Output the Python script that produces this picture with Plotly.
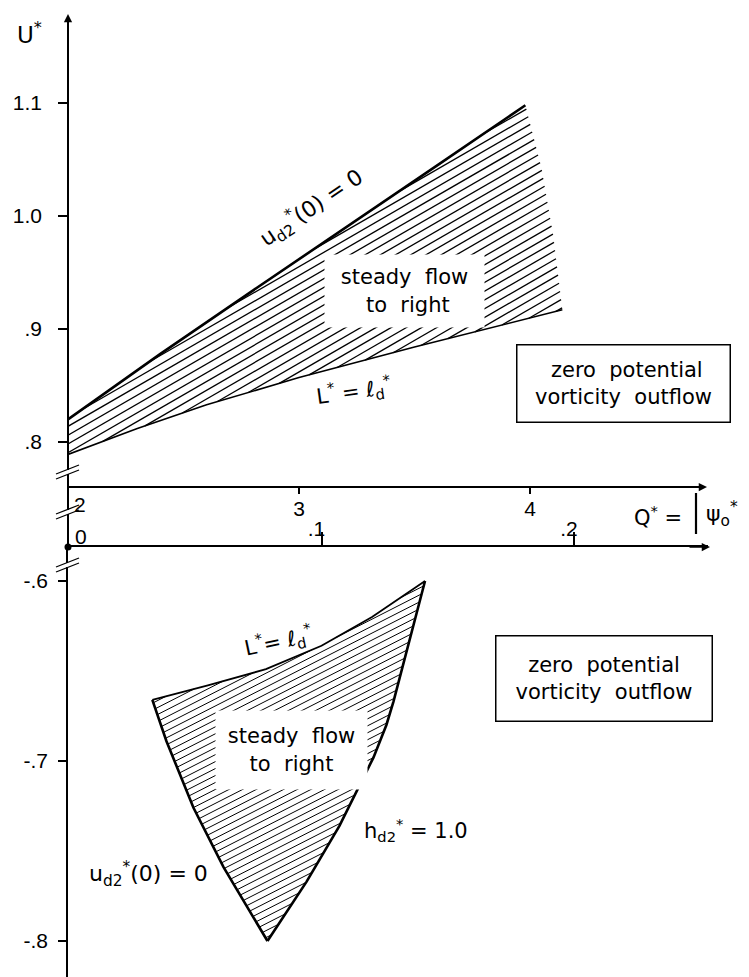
import math
import plotly.graph_objects as go

# ---------------- data ----------------
# upper panel, abscissa Q*
top_upper_Q = [2.0, 2.4, 2.8, 3.25, 3.6, 3.98]
top_upper_U = [0.820, 0.878, 0.934, 0.996, 1.045, 1.098]
top_right_Q = [3.98, 4.05, 4.10, 4.14]
top_right_U = [1.098, 1.042, 0.983, 0.917]
top_lower_Q = [2.0, 2.3, 2.6, 3.0, 3.5, 4.14]
top_lower_U = [0.789, 0.812, 0.833, 0.857, 0.884, 0.917]

# lower panel, abscissa |psi0*|
bot_upper_psi = [0.033, 0.055, 0.078, 0.100, 0.120, 0.141]
bot_upper_U = [-0.666, -0.658, -0.649, -0.636, -0.620, -0.600]
bot_right_psi = [0.141, 0.1337, 0.1285, 0.1257, 0.1206, 0.1071, 0.0941, 0.0786]
bot_right_U = [-0.600, -0.639, -0.667, -0.680, -0.698, -0.736, -0.767, -0.800]
bot_left_psi = [0.0786, 0.0612, 0.0493, 0.0386, 0.033]
bot_left_U = [-0.800, -0.759, -0.726, -0.689, -0.666]

top_ytick_vals = [0.8, 0.9, 1.0, 1.1]
top_ytick_text = [".8", ".9", "1.0", "1.1"]
top_xtick_vals = [3, 4]
top_xtick_text = ["3", "4"]
bot_xtick_vals = [0.1, 0.2]
bot_xtick_text = [".1", ".2"]
bot_ytick_vals = [-0.6, -0.7, -0.8]
bot_ytick_text = ["-.6", "-.7", "-.8"]

# ---------------- layout geometry (pixels) ----------------
W, H = 749, 977
AX_X = 60            # vertical axis
Q_AX_Y = 479         # Q* axis
P_AX_Y = 539         # psi axis
# scales
Q0_PX, Q_PX = 60, 231.0          # Q=2 at 60 px
U1_PY, U_PX = 95, 1130.0         # U=1.1 at 95 px
P0_PX, P_PX = 61, 2525.0         # psi=0 at 61 px
U6_PY, U2_PX = 573, 1800.0       # U=-0.6 at 573 px


def fx(px):
    return px / W


def fy(py):
    return 1 - py / H


def Q_of(px):
    return 2 + (px - Q0_PX) / Q_PX


def U_of(py):
    return 1.1 - (py - U1_PY) / U_PX


def psi_of(px):
    return (px - P0_PX) / P_PX


def U2_of(py):
    return -0.6 - (py - U6_PY) / U2_PX


def to_px_top(q, u):
    return (Q0_PX + (q - 2) * Q_PX, U1_PY + (1.1 - u) * U_PX)


def to_px_bot(p, u):
    return (P0_PX + p * P_PX, U6_PY + (-0.6 - u) * U2_PX)


def hatch(poly, angle_deg, spacing):
    th = math.radians(angle_deg)
    d = (math.cos(th), -math.sin(th))
    n = (math.sin(th), math.cos(th))
    proj = [n[0] * x + n[1] * y for x, y in poly]
    segs = []
    c = min(proj) + spacing / 2
    m = len(poly)
    while c < max(proj):
        pts = []
        for i in range(m):
            x1, y1 = poly[i]
            x2, y2 = poly[(i + 1) % m]
            s1 = n[0] * x1 + n[1] * y1 - c
            s2 = n[0] * x2 + n[1] * y2 - c
            if (s1 < 0 <= s2) or (s2 < 0 <= s1):
                t = s1 / (s1 - s2)
                px = x1 + t * (x2 - x1)
                py = y1 + t * (y2 - y1)
                pts.append((d[0] * px + d[1] * py, px, py))
        pts.sort()
        for k in range(0, len(pts) - 1, 2):
            segs.append(((pts[k][1], pts[k][2]), (pts[k + 1][1], pts[k + 1][2])))
        c += spacing
    return segs


# polygons in pixel space
top_poly = ([to_px_top(q, u) for q, u in zip(top_upper_Q, top_upper_U)]
            + [to_px_top(q, u) for q, u in zip(top_right_Q[1:], top_right_U[1:])]
            + [to_px_top(q, u) for q, u in zip(top_lower_Q[::-1][1:], top_lower_U[::-1][1:])])
bot_poly = ([to_px_bot(p, u) for p, u in zip(bot_upper_psi, bot_upper_U)]
            + [to_px_bot(p, u) for p, u in zip(bot_right_psi[1:], bot_right_U[1:])]
            + [to_px_bot(p, u) for p, u in zip(bot_left_psi[1:-1], bot_left_U[1:-1])])

hx, hy = [], []
for (a, b) in hatch(top_poly, 30, 7.6):
    hx += [Q_of(a[0]), Q_of(b[0]), None]
    hy += [U_of(a[1]), U_of(b[1]), None]
hx2, hy2 = [], []
for (a, b) in hatch(bot_poly, 27, 6.2):
    hx2 += [psi_of(a[0]), psi_of(b[0]), None]
    hy2 += [U2_of(a[1]), U2_of(b[1]), None]

fig = go.Figure()
blk = "black"
fig.add_trace(go.Scatter(x=hx, y=hy, mode="lines", line=dict(color=blk, width=1.3),
                         xaxis="x", yaxis="y", hoverinfo="skip"))
fig.add_trace(go.Scatter(x=top_upper_Q, y=top_upper_U, mode="lines",
                         line=dict(color=blk, width=2.6), xaxis="x", yaxis="y"))
fig.add_trace(go.Scatter(x=top_lower_Q, y=top_lower_U, mode="lines",
                         line=dict(color=blk, width=1.6), xaxis="x", yaxis="y"))

fig.add_trace(go.Scatter(x=hx2, y=hy2, mode="lines", line=dict(color=blk, width=1.0),
                         xaxis="x2", yaxis="y2", hoverinfo="skip"))
fig.add_trace(go.Scatter(x=bot_upper_psi, y=bot_upper_U, mode="lines",
                         line=dict(color=blk, width=1.8), xaxis="x2", yaxis="y2"))
fig.add_trace(go.Scatter(x=bot_right_psi, y=bot_right_U, mode="lines",
                         line=dict(color=blk, width=2.6), xaxis="x2", yaxis="y2"))
fig.add_trace(go.Scatter(x=bot_left_psi, y=bot_left_U, mode="lines",
                         line=dict(color=blk, width=2.6), xaxis="x2", yaxis="y2"))
# origin dot
fig.add_trace(go.Scatter(x=[psi_of(AX_X)], y=[U2_of(P_AX_Y)], mode="markers",
                         marker=dict(color=blk, size=7), cliponaxis=False,
                         xaxis="x2", yaxis="y2"))

tickfont = dict(family="Liberation Sans, Arial, sans-serif", size=21, color=blk)
common = dict(showgrid=False, zeroline=False, showline=True, linecolor=blk,
              linewidth=1.5, ticks="outside", tickcolor=blk, tickwidth=1.5,
              tickfont=tickfont, fixedrange=True)

fig.update_layout(
    width=W, height=H,
    margin=dict(l=0, r=0, t=0, b=0),
    paper_bgcolor="white", plot_bgcolor="white",
    showlegend=False,
    xaxis=dict(domain=[fx(AX_X), fx(697)], range=[Q_of(AX_X), Q_of(697)],
               anchor="free", position=fy(Q_AX_Y), tickvals=top_xtick_vals,
               ticktext=top_xtick_text, ticklen=6, ticklabelstandoff=-3, **common),
    yaxis=dict(domain=[fy(P_AX_Y), fy(10)], range=[U_of(P_AX_Y), U_of(10)],
               anchor="free", position=fx(AX_X), tickvals=top_ytick_vals,
               ticktext=top_ytick_text, ticklen=9, ticklabelstandoff=12, **common),
    xaxis2=dict(domain=[fx(AX_X), fx(700)], range=[psi_of(AX_X), psi_of(700)],
                anchor="y2", side="top", tickvals=bot_xtick_vals,
                ticktext=bot_xtick_text, ticklen=13, ticklabelstandoff=-12,
                ticklabelshift=-5, **common),
    yaxis2=dict(domain=[0, fy(P_AX_Y)], range=[U2_of(H), U2_of(P_AX_Y)],
                anchor="x2", tickvals=bot_ytick_vals, ticktext=bot_ytick_text,
                ticklen=8, ticklabelstandoff=6, **common),
)

# ---------------- text ----------------
tf = dict(family="DejaVu Sans, sans-serif", size=21, color=blk)
nb = "\u00a0"


def ann(px, py, text, **kw):
    base = dict(x=fx(px), y=fy(py), xref="paper", yref="paper", text=text,
                showarrow=False, font=tf, xanchor="center", yanchor="middle")
    base.update(kw)
    fig.add_annotation(**base)


ann(7, 25, "U<sup>*</sup>", xanchor="left", font=dict(tf, size=23))
ann(72, 497, "2", font=tickfont)
ann(73, 528, "0", font=tickfont)
ann(396, 283, "steady" + nb * 2 + "flow<br>" + nb + "to" + nb * 2 + "right",
    width=157, height=70, bgcolor="white")
ann(283, 742, "steady" + nb * 2 + "flow<br>to" + nb * 2 + "right",
    width=149, height=76, bgcolor="white")
ann(615, 376, nb + "zero" + nb * 2 + "potential<br>vorticity" + nb * 2 + "outflow",
    width=208, height=72, bgcolor="white", bordercolor=blk, borderwidth=1.5,
    borderpad=2)
ann(596, 670, "zero" + nb * 2 + "potential<br>vorticity" + nb * 2 + "outflow",
    width=211, height=80, bgcolor="white", bordercolor=blk, borderwidth=1.5,
    borderpad=2)
ann(303, 200, "u<sub>d2</sub><sup>*</sup>(0)" + nb + "=" + nb + "0", textangle=-34,
    font=dict(tf, size=22))
ann(345, 383, "L<sup>*</sup>" + nb + "=" + nb + "ℓ<sub>d</sub><sup>*</sup>", textangle=-8)
ann(270, 633, "L<sup>*</sup>=" + nb + "ℓ<sub>d</sub><sup>*</sup>", textangle=-12)
ann(140, 866, "u<sub>d2</sub><sup>*</sup>(0)" + nb + "=" + nb + "0", font=dict(tf, size=22))
ann(408, 822, "h<sub>d2</sub><sup>*</sup>" + nb + "=" + nb + "1.0")
ann(650, 508, "Q<sup>*</sup>" + nb + "=")
ann(714, 506, "ψ<sub>o</sub><sup>*</sup>", font=dict(tf, size=22))

# axis arrows
for (xt, yt, axx, ayy) in [(AX_X, 6, 0, 22), (699, Q_AX_Y, -22, 0), (702, P_AX_Y, -22, 0)]:
    fig.add_annotation(x=fx(xt), y=fy(yt), xref="paper", yref="paper", text="",
                       showarrow=True, ax=axx, ay=ayy, arrowhead=2, arrowsize=1.1,
                       arrowwidth=1.5, arrowcolor=blk)

# |  | around psi
for bx in (688, 742):
    fig.add_shape(type="line", xref="paper", yref="paper", x0=fx(bx), x1=fx(bx),
                  y0=fy(485), y1=fy(526), line=dict(color=blk, width=2.2))

# axis break marks
for yb in (465, 505, 558):
    fig.add_shape(type="rect", xref="paper", yref="paper", x0=fx(AX_X - 3),
                  x1=fx(AX_X + 3), y0=fy(yb + 1), y1=fy(yb - 3),
                  fillcolor="white", line=dict(width=0), layer="above")
    for off in (0, 5):
        fig.add_shape(type="line", xref="paper", yref="paper",
                      x0=fx(AX_X - 12), y0=fy(yb + 1 + off),
                      x1=fx(AX_X + 11), y1=fy(yb - 8 + off),
                      line=dict(color=blk, width=1.3), layer="above")

fig.write_html("out.html")
